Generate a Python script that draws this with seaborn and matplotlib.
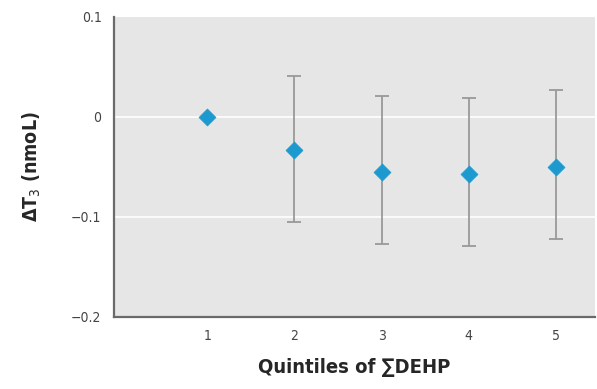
import numpy as np
import pandas as pd
import seaborn as sns
import matplotlib.pyplot as plt

quintiles = [1, 2, 3, 4, 5]
delta_t3 = [0.0, -0.033, -0.055, -0.057, -0.050]
ci_low = [0.0, -0.105, -0.127, -0.129, -0.122]
ci_high = [0.0, 0.041, 0.021, 0.019, 0.027]

df = pd.DataFrame({"quintile": quintiles, "value": delta_t3,
                   "low": ci_low, "high": ci_high})

sns.set_style("white")
plt.rcParams["font.family"] = ["DejaVu Sans"]
plt.rcParams["font.stretch"] = "condensed"

fig = plt.figure(figsize=(5.97, 3.89), dpi=100)
ax = fig.add_axes([0.191, 0.186, 0.806, 0.771])
ax.set_facecolor("#e6e6e6")

# error bars only for quintiles 2-5
err = df[df["quintile"] > 1]
ax.errorbar(err["quintile"], err["value"],
            yerr=[err["value"] - err["low"], err["high"] - err["value"]],
            fmt="none", ecolor="#999999", elinewidth=1.3, capsize=5, capthick=1.3, zorder=2)
sns.scatterplot(data=df, x="quintile", y="value", marker="D", s=75,
                color="#1c9ad0", edgecolor="#1c9ad0", linewidth=0.5, ax=ax, zorder=3)

ax.set_xlim(-0.07, 5.45)
ax.set_ylim(-0.2, 0.1)
ax.set_yticks([-0.2, -0.1, 0, 0.1])
ax.set_yticklabels(["\u22120.2", "\u22120.1", "0", "0.1"])
ax.set_xticks(quintiles)
ax.set_xticklabels([str(q) for q in quintiles])
ax.tick_params(length=0, labelsize=10, colors="#444444", pad=9)
for y in [0, -0.1]:
    ax.axhline(y, color="white", linewidth=1.2, zorder=1)

for s in ["top", "right"]:
    ax.spines[s].set_visible(False)
for s in ["left", "bottom"]:
    ax.spines[s].set_color("#6a6a6a")
    ax.spines[s].set_linewidth(1.6)

ax.set_xlabel("Quintiles of \u2211DEHP", fontsize=14.5, fontweight="bold", labelpad=11)
ax.set_ylabel("\u0394T$_3$ (nmoL)", fontsize=14, fontweight="bold", labelpad=20)

fig.savefig("out.png", dpi=100)
